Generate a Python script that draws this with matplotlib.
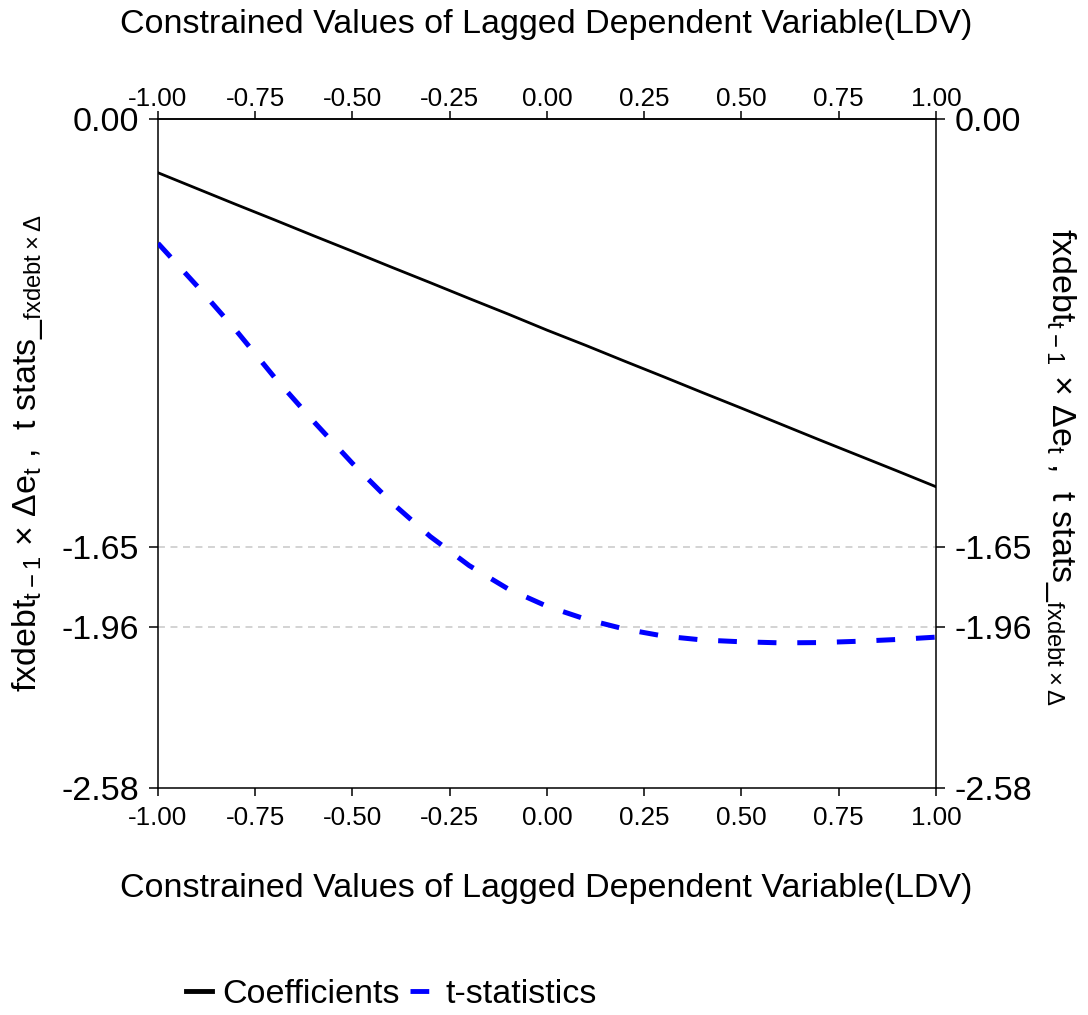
import numpy as np
import matplotlib
matplotlib.use("Agg")
import matplotlib.pyplot as plt

plt.rcParams["font.family"] = ["Liberation Sans", "DejaVu Sans"]
plt.rcParams["mathtext.default"] = "regular"
plt.rcParams["lines.scale_dashes"] = False

# ---- data ----
ldv = [-1.0, -0.9, -0.8, -0.7, -0.6, -0.5, -0.4, -0.3, -0.2, -0.1, 0.0,
       0.1, 0.2, 0.3, 0.4, 0.5, 0.6, 0.7, 0.8, 0.9, 1.0]
coefficients = [-0.207, -0.268, -0.329, -0.389, -0.450, -0.510, -0.571,
                -0.631, -0.692, -0.752, -0.814, -0.873, -0.934, -0.994,
                -1.055, -1.115, -1.176, -1.237, -1.297, -1.357, -1.418]
t_statistics = [-0.479, -0.643, -0.814, -0.997, -1.166, -1.328, -1.478,
                -1.610, -1.722, -1.812, -1.879, -1.929, -1.967, -1.994,
                -2.009, -2.016, -2.020, -2.019, -2.014, -2.007, -1.998]

x_ticks = [-1.0, -0.75, -0.5, -0.25, 0.0, 0.25, 0.5, 0.75, 1.0]
y_ticks = [0.0, -1.65, -1.96, -2.58]
crit_values = [-1.65, -1.96]

xlab = "Constrained Values of Lagged Dependent Variable(LDV)"
ylab = (r"fxdebt$_{t-1}$ × Δe$_{t}$ ,  t stats_"
        r"$_{fxdebt\times\Delta}$")

big = 24.5

fig = plt.figure(figsize=(10.88, 10.15), dpi=100)
ax = fig.add_axes([0.1452, 0.2236, 0.7151, 0.6591])

for c in crit_values:
    ax.axhline(c, color="#c8c8c8", lw=1.1, dashes=(5, 4), zorder=1)

ax.plot(ldv, coefficients, color="black", lw=2.0, label="Coefficients", zorder=3)
ax.plot(ldv, t_statistics, color="#0000ff", lw=3.6, dashes=(13.5, 15),
        label="t-statistics", zorder=3)

ax.set_xlim(-1, 1)
ax.set_ylim(-2.58, 0)
ax.set_xticks(x_ticks)
ax.set_xticklabels([f"{v:.2f}" for v in x_ticks])
ax.set_yticks(y_ticks)
ax.set_yticklabels([f"{v:.2f}" for v in y_ticks])

ax.tick_params(axis="x", direction="out", length=6, width=1.1,
               labelsize=18.7, pad=7)
ax.tick_params(axis="y", right=True, labelright=True, direction="out",
               length=6.5, width=1.1, labelsize=big, pad=7)
for s in ax.spines.values():
    s.set_linewidth(1.1)

# top axis carries the same ticks, labels sit closer to the frame
top = ax.secondary_xaxis("top")
top.set_xticks(x_ticks)
top.set_xticklabels([f"{v:.2f}" for v in x_ticks])
top.tick_params(direction="out", length=6, width=1.1, labelsize=18.7, pad=0)
top.spines["top"].set_linewidth(1.1)

fig.text(0.502, 1 - 33 / 1015, xlab, ha="center", va="baseline", fontsize=big)
fig.text(0.502, 1 - 897 / 1015, xlab, ha="center", va="baseline", fontsize=big)
fig.text(0.025, 0.554, ylab, rotation=90, ha="center", va="center", fontsize=big)
fig.text(0.975, 0.54, ylab, rotation=-90, ha="center", va="center", fontsize=big)

leg = fig.legend(loc="center", bbox_to_anchor=(0.36, 0.02), ncol=2,
                 frameon=False, fontsize=big, handlelength=0.75,
                 handletextpad=0.3, columnspacing=0.3)
for line in leg.get_lines():
    line.set_linewidth(3.5)

fig.savefig("out.png", dpi=100)
